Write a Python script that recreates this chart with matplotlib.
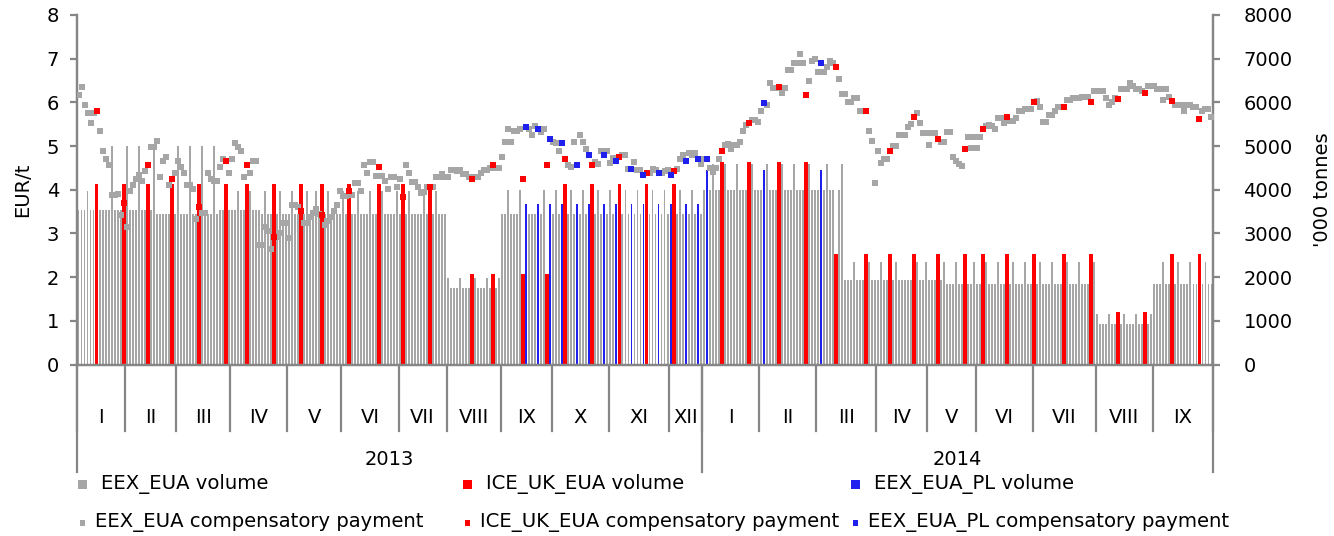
import numpy as np
import matplotlib.pyplot as plt
from matplotlib.patches import Rectangle
from matplotlib.transforms import blended_transform_factory

plt.rcParams['font.family'] = ['DejaVu Sans']
plt.rcParams['font.size'] = 14

# month groups of the category axis
months = ['I', 'II', 'III', 'IV', 'V', 'VI', 'VII', 'VIII', 'IX', 'X', 'XI', 'XII',
          'I', 'II', 'III', 'IV', 'V', 'VI', 'VII', 'VIII', 'IX']
years = ['2013', '2014']
months_per_year = [12, 9]
days_per_month = [16, 17, 18, 19, 18, 19, 16, 18, 17, 19, 20, 11,
                  19, 19, 20, 17, 16, 19, 21, 19, 20]

# auction platform per day: E = EEX (EU), D = EEX (DE), I = ICE UK, P = EEX PL
platform = "".join([
    "EEEDEEIEEEEDEEEI", "DEEEDEEIEDEEEEEIE", "DEEEDEEIDEEEDEEEIE",
    "EEDEEIDEEEEDEEIEDEE", "EDEEIEDEEDEIEDEEEE", "DEIEEDEEEDEEIDEEEED",
    "EIEDEEEEDEIEDEEE", "DEEEDEEEIDEEEDEIED", "EEDEEEDIPEEEPEDIP",
    "EDEPIEDEPEDEPIEDEPE", "DEPIEDEPEDEPIEDEPEDE", "PIEDEPEDEPE",
    "EPEDEEIDEEEDEEEIDEE", "EPDEEEIDEEEDEEEIDEE", "EPEDEEIEDEEEDEEEIDEE",
    "EDEEIEDEEEEEIDEED", "EEEIEDEEEDEEIEED", "EEIDEEEDEEIEDEEEDEE",
    "IEDEEEDEEEIDEEEDEEEID", "DEEEDEEIEDEEEDEEIED", "EEEDEEIEDEEEDEEIEDEE",
])

# auctioned volume, '000 tonnes
volume = [
    # 2013
    3540, 3540, 3540, 3980, 3540, 3540, 4130, 3540, 3540, 3540, 3540, 5000, 3540, 3540, 3540, 4130,
    5000, 3540, 3540, 3540, 5000, 3540, 3540, 4130, 3540, 5000, 3450, 3450, 3450, 3450, 3450, 4130, 3450,
    5000, 3450, 3450, 3450, 5000, 3450, 3450, 4130, 5000, 3450, 3450, 3450, 5000, 3450, 3540, 3540, 4130, 3540,
    3540, 3540, 3980, 3540, 3540, 4130, 3980, 3540, 3540, 3540, 3450, 3980, 3450, 3450, 4130, 3450, 3980, 3450, 3450,
    3450, 3980, 3450, 3450, 4130, 3450, 3980, 3450, 3450, 3980, 3450, 4130, 3450, 3980, 3450, 3450, 3450, 3450,
    3980, 3450, 4130, 3450, 3450, 3980, 3450, 3450, 3450, 3980, 3450, 3450, 4130, 3980, 3450, 3450, 3450, 3450, 3980,
    3450, 4130, 3450, 3980, 3450, 3450, 3450, 3450, 3980, 3450, 4130, 3450, 3980, 3450, 3450, 3450,
    1980, 1750, 1750, 1750, 1980, 1750, 1750, 1750, 2070, 1980, 1750, 1750, 1750, 1980, 1750, 2070, 1750, 1980,
    3440, 3440, 3990, 3440, 3440, 3440, 3990, 2070, 3670, 3440, 3440, 3440, 3670, 3440, 3990, 2070, 3670,
    3440, 3990, 3440, 3670, 4130, 3440, 3990, 3440, 3670, 3440, 3990, 3440, 3670, 4130, 3440, 3990, 3440, 3670, 3440,
    3990, 3440, 3670, 4130, 3440, 3990, 3440, 3670, 3440, 3990, 3440, 3670, 4130, 3440, 3990, 3440, 3670, 3440, 3990, 3440,
    3670, 4130, 3440, 3990, 3440, 3670, 3440, 3990, 3440, 3670, 3440,
    # 2014
    3990, 4450, 3990, 4590, 3990, 3990, 4630, 4590, 3990, 3990, 3990, 4590, 3990, 3990, 3990, 4630, 4590, 3990, 3990,
    3990, 4450, 4590, 3990, 3990, 3990, 4630, 4590, 3990, 3990, 3990, 4590, 3990, 3990, 3990, 4630, 4590, 3990, 3990,
    3990, 4450, 3990, 4590, 3990, 3990, 2530, 3990, 4590, 1930, 1930, 1930, 2350, 1930, 1930, 1930, 2530, 2350, 1930, 1930,
    1930, 2350, 1930, 1930, 2530, 1930, 2350, 1930, 1930, 1930, 1930, 1930, 2530, 2350, 1930, 1930, 2350,
    1930, 1930, 1930, 2530, 1930, 2340, 1840, 1840, 1840, 2340, 1840, 1840, 2530, 1840, 1840, 2340,
    1840, 1840, 2530, 2340, 1840, 1840, 1840, 2340, 1840, 1840, 2530, 1840, 2340, 1840, 1840, 1840, 2340, 1840, 1840,
    2530, 1840, 2340, 1840, 1840, 1840, 2340, 1840, 1840, 1840, 2530, 2340, 1840, 1840, 1840, 2340, 1840, 1840, 1840, 2530, 2340,
    1160, 920, 920, 920, 1160, 920, 920, 1200, 920, 1160, 920, 920, 920, 1160, 920, 920, 1200, 920, 1160,
    1840, 1840, 1840, 2340, 1840, 1840, 2530, 1840, 2340, 1840, 1840, 1840, 2340, 1840, 1840, 2530, 1840, 2340, 1840, 1840,
]

# auction clearing price (compensatory payment), EUR/t
price = [
    # 2013
    6.17, 6.35, 5.95, 5.76, 5.53, 5.76, 5.81, 5.35, 4.89, 4.71, 4.57, 3.88, 3.88, 3.90, 3.43, 3.70,
    3.15, 3.98, 4.12, 4.25, 4.34, 4.20, 4.43, 4.57, 4.98, 4.98, 5.12, 4.30, 4.66, 4.75, 4.11, 4.25, 4.39,
    4.66, 4.52, 4.39, 4.12, 4.12, 4.02, 3.34, 3.61, 3.47, 3.47, 4.39, 4.25, 4.20, 4.20, 4.52, 4.71, 4.66, 4.39,
    4.71, 5.07, 4.98, 4.89, 4.30, 4.57, 4.39, 4.66, 4.66, 2.74, 2.74, 3.15, 3.06, 2.65, 2.92, 2.92, 3.01, 3.24, 3.24,
    2.90, 3.66, 3.66, 3.60, 3.52, 3.24, 3.24, 3.38, 3.47, 3.57, 3.45, 3.43, 3.20, 3.29, 3.38, 3.52, 3.66, 3.98,
    3.85, 3.85, 3.98, 3.88, 4.15, 4.15, 3.98, 4.57, 4.39, 4.63, 4.63, 4.32, 4.52, 4.32, 4.20, 4.02, 4.30, 4.30, 4.07,
    4.25, 3.84, 4.57, 4.39, 4.18, 4.18, 4.07, 3.93, 3.95, 4.07, 4.07, 4.07, 4.30, 4.30, 4.35, 4.30,
    4.30, 4.45, 4.45, 4.42, 4.45, 4.35, 4.35, 4.30, 4.25, 4.30, 4.30, 4.38, 4.45, 4.45, 4.50, 4.57, 4.50, 4.50,
    4.76, 5.10, 5.40, 5.10, 5.35, 5.35, 5.40, 4.25, 5.44, 5.40, 5.26, 5.45, 5.40, 5.33, 5.40, 4.57, 5.17,
    5.10, 5.07, 4.89, 5.07, 4.71, 4.57, 4.52, 5.10, 4.57, 5.26, 5.10, 4.94, 4.80, 4.57, 4.63, 4.60, 4.89, 4.80, 4.89,
    4.62, 4.72, 4.66, 4.76, 4.80, 4.80, 4.48, 4.48, 4.63, 4.45, 4.45, 4.34, 4.39, 4.39, 4.48, 4.45, 4.39, 4.39, 4.42, 4.45,
    4.34, 4.44, 4.48, 4.71, 4.80, 4.66, 4.85, 4.80, 4.85, 4.71, 4.60,
    # 2014
    4.70, 4.71, 4.50, 4.40, 4.50, 4.70, 4.89, 5.03, 5.05, 4.94, 5.03, 5.03, 5.10, 5.35, 5.49, 5.53, 5.60, 5.60, 5.55,
    5.80, 5.99, 5.95, 6.45, 6.33, 6.33, 6.36, 6.22, 6.33, 6.75, 6.75, 6.90, 6.90, 7.10, 6.90, 6.18, 6.49, 6.95, 7.00,
    6.70, 6.91, 6.70, 6.80, 6.95, 6.90, 6.81, 6.54, 6.20, 6.20, 6.00, 6.00, 6.10, 6.10, 5.80, 5.80, 5.80, 5.35, 5.12, 4.16,
    4.89, 4.62, 4.71, 4.71, 4.89, 5.00, 5.00, 5.25, 5.25, 5.25, 5.44, 5.50, 5.67, 5.76, 5.53, 5.30, 5.30,
    5.03, 5.30, 5.30, 5.17, 5.10, 5.10, 5.33, 5.33, 4.76, 4.65, 4.60, 4.55, 4.94, 5.20, 4.95, 5.20,
    4.95, 5.20, 5.40, 5.45, 5.49, 5.45, 5.40, 5.65, 5.65, 5.53, 5.67, 5.58, 5.58, 5.65, 5.80, 5.80, 5.85, 5.85, 5.85,
    6.00, 6.03, 5.90, 5.55, 5.55, 5.70, 5.70, 5.80, 5.90, 5.90, 5.90, 6.05, 6.05, 6.10, 6.10, 6.10, 6.13, 6.13, 6.13, 6.00, 6.27,
    6.27, 6.27, 6.27, 6.10, 5.93, 6.00, 6.10, 6.08, 6.30, 6.30, 6.30, 6.45, 6.38, 6.30, 6.30, 6.25, 6.22, 6.38, 6.38,
    6.38, 6.30, 6.30, 6.05, 6.30, 6.13, 6.04, 5.95, 5.95, 5.95, 5.80, 5.95, 5.95, 5.90, 5.90, 5.62, 5.80, 5.85, 5.85, 5.66,
]

GREY = '#a6a6a6'
RED = '#ff0000'
BLUE = '#2020ee'
AXIS = '#868686'

n = len(platform)
x = np.arange(n)
vol = np.array(volume, dtype=float)
prc = np.array(price, dtype=float)
code = np.array(list(platform))
is_eex = (code == 'E') | (code == 'D')
is_ice = code == 'I'
is_pl = code == 'P'

W, H = 1334, 536
fig = plt.figure(figsize=(W / 100, H / 100), dpi=100)
left, right, top, bottom = 77, 1213, 15, 364.5
ax_v = fig.add_axes([left / W, 1 - bottom / H, (right - left) / W, (bottom - top) / H])
ax_p = ax_v.twinx()

# volumes on the secondary (right) scale, drawn underneath
ax_v.bar(x[is_eex], vol[is_eex], width=0.64, color=GREY, linewidth=0)
ax_v.bar(x[is_ice], vol[is_ice], width=1.3, color=RED, linewidth=0)
ax_v.bar(x[is_pl], vol[is_pl], width=0.64, color=BLUE, linewidth=0)

# prices on the primary (left) scale, drawn on top
ax_p.scatter(x[is_eex], prc[is_eex], marker='s', s=15, color=GREY, linewidths=0, zorder=3)
ax_p.scatter(x[is_ice], prc[is_ice], marker='s', s=20, color=RED, linewidths=0, zorder=4)
ax_p.scatter(x[is_pl], prc[is_pl], marker='s', s=20, color=BLUE, linewidths=0, zorder=4)

ax_v.set_xlim(-0.5, n - 0.5)
ax_v.set_ylim(0, 8000)
ax_p.set_ylim(0, 8)
ax_v.set_yticks(np.arange(0, 8001, 1000))
ax_p.set_yticks(np.arange(0, 9, 1))
ax_v.set_xticks([])

ax_v.yaxis.set_ticks_position('right')
ax_p.yaxis.set_ticks_position('left')
ax_p.yaxis.set_label_position('left')

for a in (ax_v, ax_p):
    a.spines['top'].set_visible(False)
    for s in ('left', 'right', 'bottom'):
        a.spines[s].set_color(AXIS)
        a.spines[s].set_linewidth(1.6)
    a.tick_params(axis='y', color=AXIS, width=1.6, length=5, labelcolor='black')
ax_v.tick_params(axis='y', pad=17)
ax_p.tick_params(axis='y', pad=8)

ax_p.set_ylabel('EUR/t', labelpad=10)
fig.text(1322 / W, 1 - 190 / H, "'000 tonnes", rotation=90, ha='center', va='center')

# multi-level category axis: months, then years
trans = blended_transform_factory(ax_v.transData, ax_v.transAxes)
starts = np.concatenate([[0], np.cumsum(days_per_month)])
for b in starts:
    ax_v.plot([b - 0.5, b - 0.5], [0, -0.19], color=AXIS, lw=1.6,
              transform=trans, clip_on=False)
for m, lab in enumerate(months):
    ax_v.text((starts[m] + starts[m + 1] - 1) / 2, -0.153, lab, transform=trans,
              ha='center', va='center')

year_starts = starts[np.concatenate([[0], np.cumsum(months_per_year)])]
for b in year_starts:
    ax_v.plot([b - 0.5, b - 0.5], [0, -0.3076], color=AXIS, lw=1.6,
              transform=trans, clip_on=False)
for k, lab in enumerate(years):
    ax_v.text((year_starts[k] + year_starts[k + 1] - 1) / 2, -0.273, lab,
              transform=trans, ha='center', va='center')

# legend laid out like the original: volumes on row one, payments on row two
legend_rows = [
    [('EEX_EUA volume', GREY), ('ICE_UK_EUA volume', RED), ('EEX_EUA_PL volume', BLUE)],
    [('EEX_EUA compensatory payment', GREY), ('ICE_UK_EUA compensatory payment', RED),
     ('EEX_EUA_PL compensatory payment', BLUE)],
]
col_x = [78, 463, 851]
row_y = [484, 523]
for r, row in enumerate(legend_rows):
    for c, (lab, col) in enumerate(row):
        if r == 0:
            sw, sh, tx = 9, 9, col_x[c] + 23
        else:
            sw, sh, tx = 5, 6, col_x[c] + 17
        fig.add_artist(Rectangle(((col_x[c] + (9 - sw) / 2) / W, 1 - (row_y[r] + sh / 2) / H),
                                 sw / W, sh / H, transform=fig.transFigure,
                                 color=col, linewidth=0))
        fig.text(tx / W, 1 - row_y[r] / H, lab, ha='left', va='center', fontsize=14.1)

fig.savefig('out.png', dpi=100)
